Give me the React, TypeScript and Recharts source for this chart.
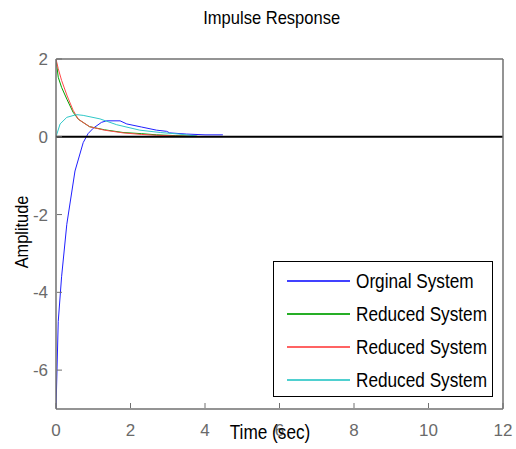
import { Line, LineChart, ReferenceLine, XAxis, YAxis } from "recharts";

const xTicks = [0, 2, 4, 6, 8, 10, 12];
const yTicks = [-6, -4, -2, 0, 2];

const origT = [0, 0.06, 0.15, 0.29, 0.51, 0.73, 0.86, 1.0, 1.22, 1.35, 1.72, 1.9, 2.3, 2.7, 2.97, 3.05, 3.5, 4.0, 4.48];
const origY = [-7, -4.75, -3.6, -2.25, -0.88, -0.15, 0.08, 0.22, 0.37, 0.41, 0.41, 0.33, 0.25, 0.17, 0.14, 0.1, 0.07, 0.05, 0.05];

const red1T = [0, 0.06, 0.15, 0.3, 0.46, 0.6, 0.9, 1.3, 1.8, 2.3, 2.7, 3.2, 3.8];
const red1Y = [2, 1.53, 1.27, 0.95, 0.63, 0.45, 0.26, 0.18, 0.11, 0.08, 0.05, 0.03, 0.01];

const red2T = [0, 0.06, 0.15, 0.3, 0.46, 0.6, 0.9, 1.3, 1.8, 2.3, 2.7, 3.2, 3.8];
const red2Y = [2, 1.75, 1.45, 1.05, 0.68, 0.45, 0.26, 0.17, 0.1, 0.06, 0.04, 0.02, 0.01];

const red3T = [0, 0.11, 0.29, 0.55, 0.73, 1.18, 1.63, 2.25, 2.8, 3.3, 3.78];
const red3Y = [0, 0.33, 0.5, 0.57, 0.55, 0.46, 0.31, 0.17, 0.11, 0.07, 0.02];

const toRows = (t: number[], y: number[]) => t.map((v, i) => ({ t: v, y: y[i] }));

const series = [
  { name: "Orginal System", color: "#2020ff", data: toRows(origT, origY) },
  { name: "Reduced System", color: "#00a000", data: toRows(red1T, red1Y) },
  { name: "Reduced System", color: "#ff4848", data: toRows(red2T, red2Y) },
  { name: "Reduced System", color: "#30c8c8", data: toRows(red3T, red3Y) }
];

const sans = "'Liberation Sans', Arial, sans-serif";
const grey = "#707070";
const label = "#6a6a6a";

const BottomTick = (p: any) => (
  <g>
    <line x1={p.x} y1={p.y - 1} x2={p.x} y2={p.y - 6} stroke={grey} />
    <text x={p.x} y={p.y + 27} textAnchor="middle" fill={label} fontSize={17} fontFamily={sans}>
      {p.payload.value}
    </text>
  </g>
);
const TopTick = (p: any) => <line x1={p.x} y1={p.y + 1} x2={p.x} y2={p.y + 6} stroke={grey} />;
const LeftTick = (p: any) => (
  <g>
    <line x1={p.x + 1} y1={p.y} x2={p.x + 6} y2={p.y} stroke={grey} />
    <text x={p.x - 8} y={p.y + 6} textAnchor="end" fill={label} fontSize={17} fontFamily={sans}>
      {p.payload.value}
    </text>
  </g>
);
const RightTick = (p: any) => <line x1={p.x - 1} y1={p.y} x2={p.x - 6} y2={p.y} stroke={grey} />;

export default function App() {
  return (
    <div style={{ position: "absolute", left: 0, top: 0, width: 516, height: 449, background: "#fff" }}>
      <div style={{ position: "absolute", left: 172, top: 7, width: 200, textAlign: "center", fontFamily: sans, fontSize: 19 }}>
        <span style={{ display: "inline-block", transform: "scaleX(0.87)" }}>Impulse Response</span>
      </div>
      <LineChart width={516} height={449} margin={{ top: 58, right: 12, bottom: 39, left: 55 }}>
        <XAxis
          xAxisId="b"
          dataKey="t"
          type="number"
          domain={[0, 12]}
          ticks={xTicks}
          height={1}
          tickSize={0}
          tickMargin={0}
          tickLine={false}
          axisLine={{ stroke: grey, strokeWidth: 1.5 }}
          tick={BottomTick}
          allowDataOverflow
        />
        <XAxis
          xAxisId="top"
          orientation="top"
          type="number"
          domain={[0, 12]}
          ticks={xTicks}
          height={1}
          tickSize={0}
          tickMargin={0}
          tickLine={false}
          axisLine={{ stroke: grey, strokeWidth: 1.5 }}
          tick={TopTick}
        />
        <YAxis
          yAxisId="l"
          type="number"
          domain={[-7, 2]}
          ticks={yTicks}
          width={1}
          tickSize={0}
          tickMargin={0}
          tickLine={false}
          axisLine={{ stroke: grey, strokeWidth: 1.5 }}
          tick={LeftTick}
          allowDataOverflow
        />
        <YAxis
          yAxisId="r"
          orientation="right"
          type="number"
          domain={[-7, 2]}
          ticks={yTicks}
          width={1}
          tickSize={0}
          tickMargin={0}
          tickLine={false}
          axisLine={{ stroke: grey, strokeWidth: 1.5 }}
          tick={RightTick}
        />
        {series.map((s, i) => (
          <Line
            key={i}
            xAxisId="b"
            yAxisId="l"
            data={s.data}
            dataKey="y"
            type="linear"
            stroke={s.color}
            strokeWidth={1}
            dot={false}
            isAnimationActive={false}
          />
        ))}
        <ReferenceLine xAxisId="b" yAxisId="l" y={0} stroke="#000" strokeWidth={2} />
      </LineChart>
      <div
        style={{
          position: "absolute",
          left: 22,
          top: 232,
          transform: "translate(-50%, -50%) rotate(-90deg) scaleX(0.86)",
          fontFamily: sans,
          fontSize: 19,
          whiteSpace: "nowrap"
        }}
      >
        Amplitude
      </div>
      <div
        style={{
          position: "absolute",
          left: 270,
          top: 421,
          transform: "translateX(-50%) scaleX(0.86)",
          fontFamily: sans,
          fontSize: 20,
          whiteSpace: "nowrap"
        }}
      >
        Time (sec)
      </div>
      <div
        style={{
          position: "absolute",
          left: 273,
          top: 261,
          width: 218,
          height: 134,
          border: "1px solid #000",
          background: "#fff",
          boxSizing: "content-box"
        }}
      >
        {series.map((s, i) => (
          <div key={i} style={{ position: "absolute", left: 13, top: 5 + i * 33, height: 28, display: "flex", alignItems: "center" }}>
            <div style={{ width: 63, height: 0, borderTop: `2px solid ${s.color}`, opacity: 0.85 }} />
            <span
              style={{
                marginLeft: 6,
                fontFamily: sans,
                fontSize: 20,
                whiteSpace: "nowrap",
                display: "inline-block",
                transform: "scaleX(0.86)",
                transformOrigin: "left center"
              }}
            >
              {s.name}
            </span>
          </div>
        ))}
      </div>
    </div>
  );
}
